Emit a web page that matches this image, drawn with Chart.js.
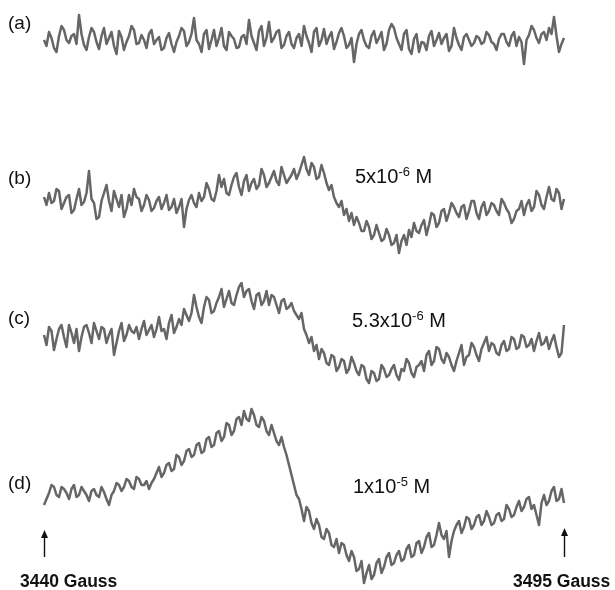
<!DOCTYPE html>
<html>
<head>
<meta charset="utf-8">
<script src="https://cdn.jsdelivr.net/npm/chart.js@4.4.0/dist/chart.umd.min.js"></script>
<style>
    html, body { margin: 0; padding: 0; background: #fff; }
    #figure {
        position: relative;
        width: 615px;
        height: 590px;
        overflow: hidden;
        font-family: "Liberation Sans", Arial, sans-serif;
        color: #111;
    }
    #figure canvas { position: absolute; left: 0; }
    .label { position: absolute; line-height: 1; white-space: nowrap; }
    .panel { font-size: 19px; left: 8px; }
    .conc { font-size: 20px; }
    .conc sup { font-size: 13px; vertical-align: 7px; line-height: 0; }
    .gauss { font-size: 17.5px; font-weight: bold; }
</style>
</head>
<body>
<div id="figure">
    <canvas id="traceA" width="615" height="80" style="top:0px"></canvas>
    <canvas id="traceB" width="615" height="130" style="top:140px"></canvas>
    <canvas id="traceC" width="615" height="130" style="top:270px"></canvas>
    <canvas id="traceD" width="615" height="195" style="top:395px"></canvas>

    <div class="label panel" style="top:13px">(a)</div>
    <div class="label panel" style="top:168px">(b)</div>
    <div class="label panel" style="top:308px">(c)</div>
    <div class="label panel" style="top:473px">(d)</div>

    <div class="label conc" style="left:355px; top:166px">5x10<sup>-6</sup> M</div>
    <div class="label conc" style="left:352px; top:310px">5.3x10<sup>-6</sup> M</div>
    <div class="label conc" style="left:353px; top:476px">1x10<sup>-5</sup> M</div>

    <div class="label gauss" style="left:20px; top:573px">3440 Gauss</div>
    <div class="label gauss" style="left:513px; top:573px">3495 Gauss</div>
</div>

<script>
// Field sweep (Gauss)
const FIELD_START = 3440;
const FIELD_END = 3495;

// Spectrum (a): blank, noise only
const traceA = [
    0, -6, 8, 2, -8, -12, 4, 14, 10, 0, -3, 4, 6, -4, 25, 6, -5, -10, 3, 12,
    8, -2, -9, 4, 12, -4, 2, 8, -6, -14, 9, 3, -10, -2, 4, 14, 10, -4, -3, 5,
    0, -8, 6, 10, -4, 0, 3, -10, -8, 2, 7, -4, -12, -2, 4, 12, 9, -6, -2, 6,
    22, 0, -4, -12, 6, 10, -9, 0, 10, -6, 2, 12, -6, -10, 8, 4, 1, -8, -7, 3,
    5, -4, 20, 4, -3, -10, 9, 14, -6, 2, 18, -2, 2, 8, 10, -8, -5, 4, 8, -4,
    -8, 2, 6, -6, 14, 4, -3, -12, 8, 12, -6, 0, 11, -4, 3, 8, -9, -2, 7, 12,
    4, -8, -5, 2, -22, -4, 6, 10, 0, -6, -8, 4, 9, -3, 2, 8, -10, -4, 10, 16,
    12, 2, -4, -10, 6, 10, -9, -14, 1, 6, -12, -2, -3, -10, 4, 9, -6, 0, 7, -4,
    2, 6, -11, -6, 12, 2, -5, -10, 3, 6, 0, -6, -3, 4, 2, -4, -2, 8, 5, -2,
    -4, -10, 1, 6, 6, -2, -6, 4, 8, -6, 3, -2, -24, 0, 5, 14, 10, 2, -3, 6,
    8, 0, 12, 6, 23, 4, -12, -4, 2
];

// Spectrum (b): 5x10-6 M
const traceB = [
    8, 0, 12, 2, 4, 16, 14, -4, 2, 8, 10, -8, -5, 6, 16, 0, 3, 12, 34, 6,
    2, -14, -12, 4, 12, 20, 4, -6, 14, 6, -2, 10, -12, -4, 10, 0, 16, 8, 6, -6,
    0, 10, 5, -6, -3, 4, 8, -4, 2, 10, -5, -2, 6, -8, -2, 6, -22, -4, 5, 10,
    2, -2, 12, 4, 8, 22, 16, 6, 4, 14, 30, 18, 26, 12, 10, 20, 28, 32, 18, 10,
    24, 30, 14, 22, 26, 16, 20, 36, 30, 18, 22, 28, 34, 24, 20, 38, 30, 22, 26, 30,
    36, 26, 32, 40, 48, 36, 30, 42, 38, 26, 28, 40, 32, 22, 15, 20, 8, 2, -2, 4,
    -10, -4, -16, -8, -20, -12, -18, -26, -26, -16, -22, -34, -30, -20, -28, -36, -34, -24, -30, -40,
    -38, -30, -48, -36, -30, -40, -25, -32, -18, -26, -28, -20, -15, -30, -20, -8, -10, -22, -18, -6,
    -4, -16, -8, 2, -2, -8, -12, -2, 0, -14, -6, 4, 4, -8, -14, -2, 3, -10, -6, 2,
    0, -6, -10, 6, 2, -4, -8, -18, -14, -6, -4, 4, -10, 0, 5, -6, -2, 14, 10, 0,
    -4, 8, 18, 6, 4, 16, 12, -4, 6
];

// Spectrum (c): 5.3x10-6 M
const traceC = [
    0, -10, 8, 4, -15, -4, 6, 10, -2, -12, 10, 2, -8, 6, -16, -2, 8, 10, 2, -8,
    12, 4, -4, 8, 6, -8, 0, 6, -20, -8, 4, 12, -6, 0, 10, 4, 2, 8, -4, 6,
    14, 0, 5, 10, -2, 6, 18, 4, 6, -4, 12, 20, 2, 8, 16, 10, 26, 20, 14, 22,
    40, 28, 18, 12, 28, 38, 35, 22, 24, 32, 38, 46, 28, 36, 44, 32, 30, 40, 48, 52,
    38, 44, 46, 34, 26, 40, 42, 30, 34, 44, 30, 40, 38, 30, 22, 34, 36, 26, 28, 32,
    24, 20, 16, 22, 6, 0, -8, -2, -16, -10, -24, -14, -18, -28, -30, -20, -22, -36, -32, -24,
    -26, -38, -34, -22, -28, -36, -40, -30, -32, -44, -48, -36, -38, -46, -44, -30, -34, -42, -40, -34,
    -30, -40, -45, -34, -36, -24, -28, -38, -42, -32, -30, -26, -36, -20, -16, -30, -26, -12, -14, -24,
    -28, -18, -22, -30, -36, -26, -18, -10, -30, -22, -20, -8, -12, -20, -26, -14, -8, -2, -16, -8,
    -10, -18, -20, -10, -6, -16, -14, -2, -4, -14, -12, 0, -2, -12, -10, -4, -16, -6, 2, -10,
    -8, -2, -14, -6, 0, -12, -22, -18, 10
];

// Spectrum (d): 1x10-5 M
const traceD = [
    -10, -4, 2, 10, 8, 0, -2, 8, 6, 2, -4, 6, 10, -2, 0, 8, 4, 0, -6, 4,
    6, 0, -2, 8, 3, -4, -10, 0, 4, 12, 10, 4, 8, 16, 14, 8, 6, 18, 16, 10,
    10, 14, 6, 12, 16, 22, 28, 18, 22, 30, 32, 24, 26, 40, 38, 30, 34, 44, 46, 38,
    40, 50, 52, 42, 44, 56, 58, 48, 50, 62, 64, 54, 58, 72, 70, 60, 64, 76, 78, 70,
    84, 76, 74, 86, 80, 70, 68, 78, 74, 64, 60, 70, 62, 54, 50, 58, 48, 40, 30, 20,
    10, 0, -4, -14, -26, -12, -16, -28, -34, -24, -30, -42, -44, -34, -38, -50, -52, -44, -58, -48,
    -50, -60, -66, -56, -62, -76, -74, -66, -88, -78, -70, -84, -80, -68, -64, -78, -72, -62, -58, -70,
    -68, -60, -56, -66, -64, -54, -50, -62, -60, -48, -46, -58, -52, -42, -38, -52, -50, -40, -28, -40,
    -44, -36, -62, -46, -36, -30, -26, -38, -32, -22, -24, -34, -30, -22, -20, -30, -26, -16, -22, -30,
    -28, -20, -18, -26, -24, -10, -14, -22, -20, -12, -6, -16, -12, -4, -2, -14, -10, -20, -30, -8,
    0, -10, -6, 4, 8, -6, -4, 6, -8
];

const TRACE_COLOR = '#666666';

// Field value for each sample
const fields = traceA.map((_, i) => FIELD_START + i * (FIELD_END - FIELD_START) / (traceA.length - 1));

// Little arrows under the last spectrum marking the sweep ends
const gaussArrows = {
    id: 'gaussArrows',
    afterDraw(chart) {
        const ctx = chart.ctx;
        const x = chart.scales.x;
        const ends = [[FIELD_START, 135], [FIELD_END, 133]];
        ctx.save();
        ctx.strokeStyle = '#111';
        ctx.fillStyle = '#111';
        ctx.lineWidth = 1.4;
        ends.forEach(([field, top]) => {
            const px = Math.round(x.getPixelForValue(field)) + 0.5;
            ctx.beginPath();
            ctx.moveTo(px, top + 6);
            ctx.lineTo(px, 162);
            ctx.stroke();
            ctx.beginPath();
            ctx.moveTo(px, top);
            ctx.lineTo(px - 3.5, top + 8);
            ctx.lineTo(px + 3.5, top + 8);
            ctx.closePath();
            ctx.fill();
        });
        ctx.restore();
    }
};

function drawTrace(canvasId, values, yMin, yMax, extraPlugins) {
    const ctx = document.getElementById(canvasId).getContext('2d');
    return new Chart(ctx, {
        type: 'line',
        data: {
            datasets: [{
                data: values.map((v, i) => ({ x: fields[i], y: v })),
                borderColor: TRACE_COLOR,
                borderWidth: 2.5,
                borderJoinStyle: 'round',
                pointRadius: 0,
                tension: 0,
                clip: false
            }]
        },
        options: {
            responsive: false,
            animation: false,
            devicePixelRatio: 1,
            events: [],
            layout: { padding: { left: 44, right: 51, top: 0, bottom: 0 } },
            plugins: {
                legend: { display: false },
                tooltip: { enabled: false }
            },
            scales: {
                x: { type: 'linear', min: FIELD_START, max: FIELD_END, display: false },
                y: { min: yMin, max: yMax, display: false }
            }
        },
        plugins: extraPlugins || []
    });
}

drawTrace('traceA', traceA, -40, 40);
drawTrace('traceB', traceB, -65, 65);
drawTrace('traceC', traceC, -65, 65);
drawTrace('traceD', traceD, -95, 100, [gaussArrows]);
</script>
</body>
</html>
